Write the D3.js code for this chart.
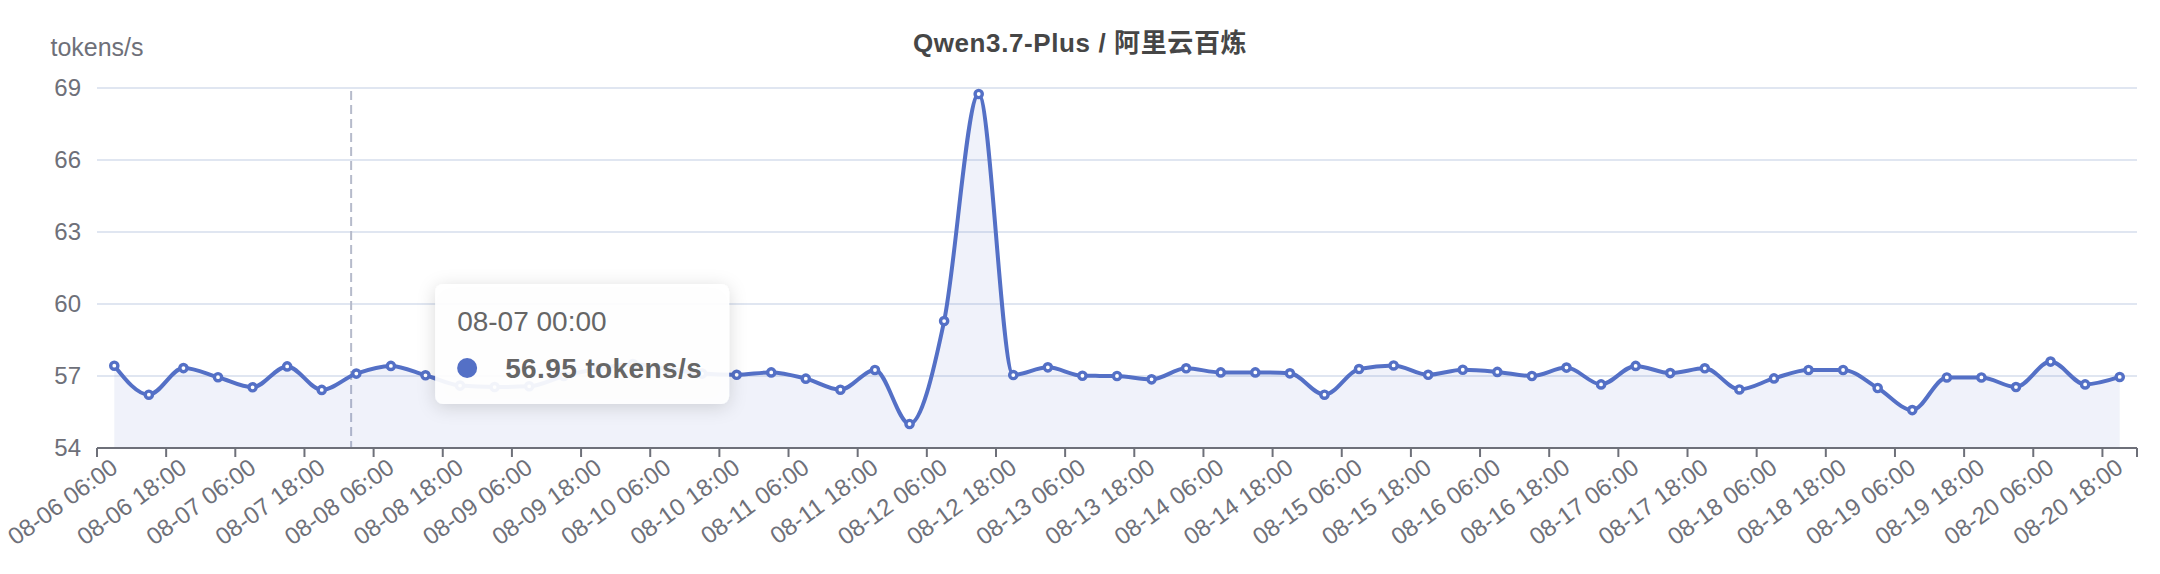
<!DOCTYPE html>
<html>
<head>
<meta charset="utf-8">
<script src="https://cdn.jsdelivr.net/npm/d3@7/dist/d3.min.js"></script>
<style>
  body { margin: 0; background: #fff; }
  text { font-family: "Liberation Sans", Arial, "Noto Sans CJK SC", sans-serif; }
</style>
</head>
<body>
<script>
// six-hourly samples, 08-06 06:00 .. 08-20 18:00
var categories = [
  '08-06 06:00', '08-06 12:00', '08-06 18:00', '08-07 00:00',
  '08-07 06:00', '08-07 12:00', '08-07 18:00', '08-08 00:00',
  '08-08 06:00', '08-08 12:00', '08-08 18:00', '08-09 00:00',
  '08-09 06:00', '08-09 12:00', '08-09 18:00', '08-10 00:00',
  '08-10 06:00', '08-10 12:00', '08-10 18:00', '08-11 00:00',
  '08-11 06:00', '08-11 12:00', '08-11 18:00', '08-12 00:00',
  '08-12 06:00', '08-12 12:00', '08-12 18:00', '08-13 00:00',
  '08-13 06:00', '08-13 12:00', '08-13 18:00', '08-14 00:00',
  '08-14 06:00', '08-14 12:00', '08-14 18:00', '08-15 00:00',
  '08-15 06:00', '08-15 12:00', '08-15 18:00', '08-16 00:00',
  '08-16 06:00', '08-16 12:00', '08-16 18:00', '08-17 00:00',
  '08-17 06:00', '08-17 12:00', '08-17 18:00', '08-18 00:00',
  '08-18 06:00', '08-18 12:00', '08-18 18:00', '08-19 00:00',
  '08-19 06:00', '08-19 12:00', '08-19 18:00', '08-20 00:00',
  '08-20 06:00', '08-20 12:00', '08-20 18:00'
];

var speeds = [
  57.43, 56.22, 57.33, 56.95, 56.53, 57.40, 56.42, 57.10,
  57.42, 57.03, 56.60, 56.54, 56.57, 57.00, 57.30, 57.50,
  57.30, 57.10, 57.05, 57.15, 56.89, 56.43, 57.25, 55.00,
  59.29, 68.75, 57.04, 57.36, 57.01, 57.00, 56.86, 57.32,
  57.15, 57.15, 57.11, 56.22, 57.29, 57.44, 57.05, 57.26,
  57.17, 57.00, 57.35, 56.65, 57.42, 57.12, 57.32, 56.44,
  56.90, 57.25, 57.25, 56.50, 55.58, 56.94, 56.94, 56.54,
  57.60, 56.65, 56.96
];

var yTicks = [54, 57, 60, 63, 66, 69];
var titleText = 'Qwen3.7-Plus / 阿里云百炼';
var unitName = 'tokens/s';
var tooltipIndex = 3;   // sample shown in the tooltip
var pointerIndex = 7;   // band the dashed axis pointer sits in

var width = 2160, height = 574;
var margin = {top: 88, right: 23, bottom: 126, left: 97};
var blue = '#5470c6', grey = '#6e7079';

var svg = d3.select('body').append('svg')
  .attr('width', width)
  .attr('height', height);

var x = d3.scaleBand()
  .domain(categories)
  .range([margin.left, width - margin.right]);
var y = d3.scaleLinear()
  .domain([d3.min(yTicks), d3.max(yTicks)])
  .range([height - margin.bottom, margin.top]);

function cx(c) { return x(c) + x.bandwidth() / 2; }

// soft shadow for the tooltip box
var shadow = svg.append('defs').append('filter')
  .attr('id', 'tipShadow')
  .attr('x', '-20%').attr('y', '-30%')
  .attr('width', '140%').attr('height', '160%');
shadow.append('feDropShadow')
  .attr('dx', 0).attr('dy', 3)
  .attr('stdDeviation', 9)
  .attr('flood-color', '#000')
  .attr('flood-opacity', 0.16);

// title
svg.append('text')
  .attr('x', width / 2)
  .attr('y', 43)
  .attr('dy', '0.35em')
  .attr('text-anchor', 'middle')
  .attr('font-size', 26)
  .attr('letter-spacing', 0.6)
  .attr('font-weight', 'bold')
  .attr('fill', '#464646')
  .text(titleText);

// horizontal grid
svg.append('g').selectAll('line')
  .data(yTicks)
  .enter()
  .append('line')
  .attr('x1', margin.left)
  .attr('x2', width - margin.right)
  .attr('y1', function(d) { return y(d); })
  .attr('y2', function(d) { return y(d); })
  .attr('stroke', '#e0e6f1')
  .attr('stroke-width', 2);

// y labels + axis name
svg.append('g').selectAll('text')
  .data(yTicks)
  .enter()
  .append('text')
  .attr('x', margin.left - 16)
  .attr('y', function(d) { return y(d); })
  .attr('dy', '0.35em')
  .attr('text-anchor', 'end')
  .attr('font-size', 24)
  .attr('fill', grey)
  .text(function(d) { return d; });

svg.append('text')
  .attr('x', margin.left)
  .attr('y', y(d3.max(yTicks)) - 41)
  .attr('dy', '0.35em')
  .attr('text-anchor', 'middle')
  .attr('font-size', 25)
  .attr('fill', grey)
  .text(unitName);

// dashed axis pointer (behind the series), sits at the mouse, a little
// left of the band centre
var px = cx(categories[pointerIndex]) - x.bandwidth() * 0.15;
svg.append('line')
  .attr('x1', px).attr('x2', px)
  .attr('y1', y(d3.max(yTicks)) + 3)
  .attr('y2', y(d3.min(yTicks)))
  .attr('stroke', '#b6bbcb')
  .attr('stroke-width', 2)
  .attr('stroke-dasharray', '9,5');

// area + smoothed line
var area = d3.area()
  .x(function(d, i) { return cx(categories[i]); })
  .y0(y(d3.min(yTicks)))
  .y1(function(d) { return y(d); })
  .curve(d3.curveMonotoneX);
var line = d3.line()
  .x(function(d, i) { return cx(categories[i]); })
  .y(function(d) { return y(d); })
  .curve(d3.curveMonotoneX);

svg.append('path')
  .datum(speeds)
  .attr('d', area)
  .attr('fill', blue)
  .attr('fill-opacity', 0.09);

svg.append('path')
  .datum(speeds)
  .attr('d', line)
  .attr('fill', 'none')
  .attr('stroke', blue)
  .attr('stroke-width', 4)
  .attr('stroke-linejoin', 'round');

svg.append('g').selectAll('circle')
  .data(speeds)
  .enter()
  .append('circle')
  .attr('cx', function(d, i) { return cx(categories[i]); })
  .attr('cy', function(d) { return y(d); })
  .attr('r', 3.6)
  .attr('fill', '#fff')
  .attr('stroke', blue)
  .attr('stroke-width', 3.4);

// x axis: line, ticks on every second band edge, rotated labels
var axisY = y(d3.min(yTicks));
svg.append('line')
  .attr('x1', margin.left).attr('x2', width - margin.right)
  .attr('y1', axisY).attr('y2', axisY)
  .attr('stroke', grey)
  .attr('stroke-width', 2);

var tickX = categories
  .filter(function(c, i) { return i % 2 === 0; })
  .map(function(c) { return x(c); })
  .concat([width - margin.right]);
svg.append('g').selectAll('line')
  .data(tickX)
  .enter()
  .append('line')
  .attr('x1', function(d) { return d; })
  .attr('x2', function(d) { return d; })
  .attr('y1', axisY)
  .attr('y2', axisY + 9)
  .attr('stroke', grey)
  .attr('stroke-width', 2);

svg.append('g').selectAll('text')
  .data(categories.filter(function(c, i) { return i % 2 === 0; }))
  .enter()
  .append('text')
  .attr('transform', function(d) {
    return 'translate(' + cx(d) + ',' + (axisY + 16) + ') rotate(-36)';
  })
  .attr('dy', '0.35em')
  .attr('text-anchor', 'end')
  .attr('font-size', 24)
  .attr('fill', grey)
  .text(function(d) { return d; });

// tooltip, hanging to the right of the pointer
var tip = svg.append('g')
  .attr('transform', 'translate(' + (px + 84) + ',' + (y(60) - 20) + ')');
tip.append('rect')
  .attr('width', 294)
  .attr('height', 120)
  .attr('rx', 8)
  .attr('fill', '#fff')
  .attr('fill-opacity', 0.92)
  .attr('filter', 'url(#tipShadow)');
tip.append('text')
  .attr('x', 22).attr('y', 37)
  .attr('dy', '0.35em')
  .attr('font-size', 28)
  .attr('fill', '#666')
  .text(categories[tooltipIndex]);
tip.append('circle')
  .attr('cx', 32).attr('cy', 84)
  .attr('r', 10)
  .attr('fill', blue);
tip.append('text')
  .attr('x', 70).attr('y', 84)
  .attr('dy', '0.35em')
  .attr('font-size', 28)
  .attr('letter-spacing', 0.4)
  .attr('font-weight', 'bold')
  .attr('fill', '#666')
  .text(speeds[tooltipIndex].toFixed(2) + ' ' + unitName);
</script>
</body>
</html>
